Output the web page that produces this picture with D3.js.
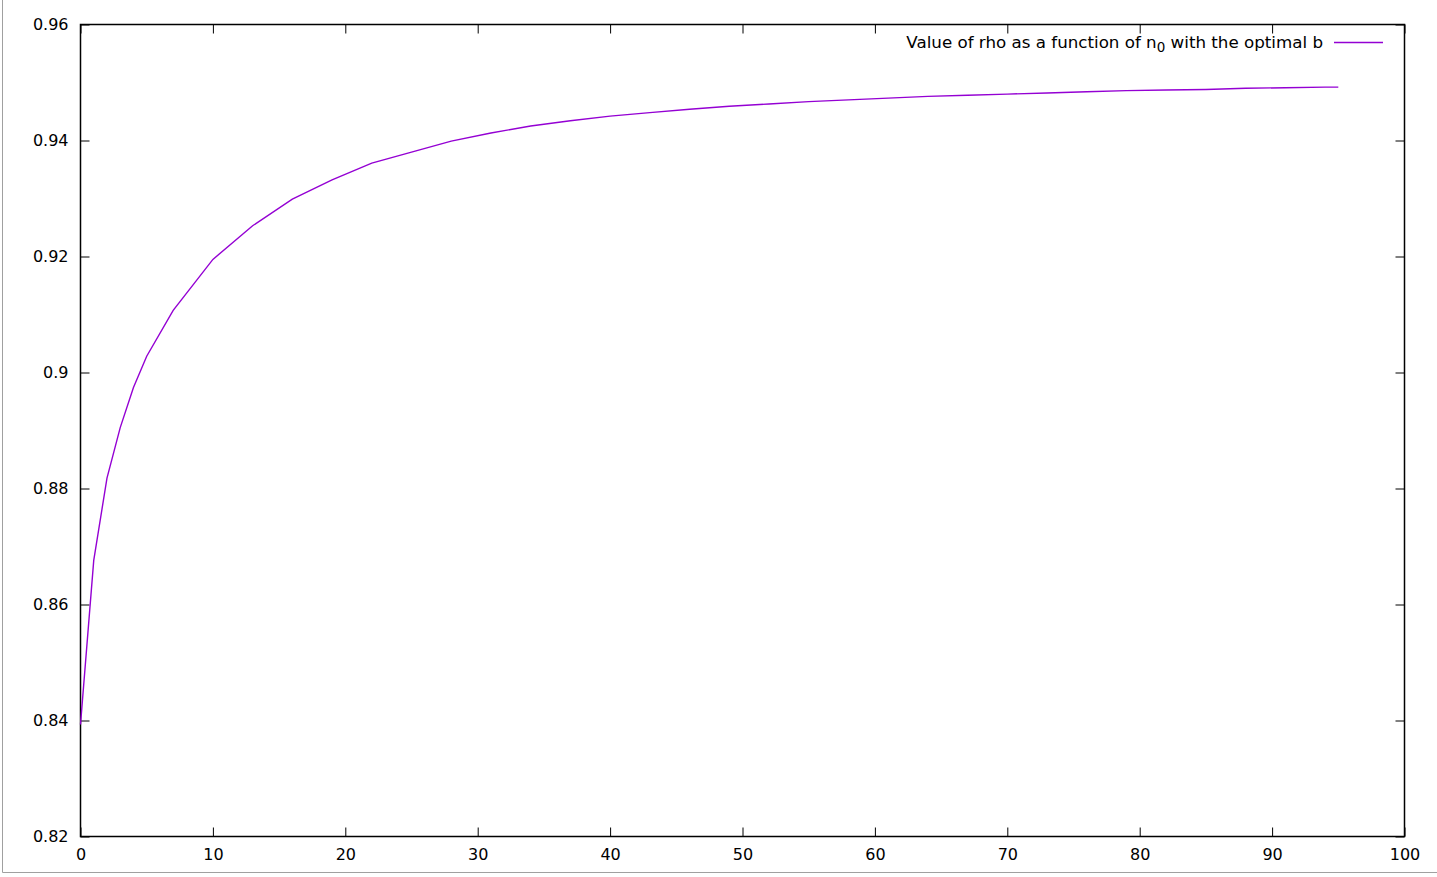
<!DOCTYPE html>
<html>
<head>
<meta charset="utf-8">
<script src="https://cdn.jsdelivr.net/npm/d3@7"></script>
<style>
  html, body { margin: 0; padding: 0; background: #fff; }
  svg { display: block; }
  text { font-family: "DejaVu Sans", sans-serif; fill: #000; }
</style>
</head>
<body>
<svg id="chart" width="1437" height="877"></svg>
<script>
const n0Values = [0, 1, 2, 3, 4, 5, 7, 10, 13, 16, 19, 22, 25, 28, 31, 34, 37, 40, 43, 46, 49, 52, 55, 58, 61, 64, 67, 70, 73, 76, 79, 82, 85, 88, 91, 94, 95];
const rhoValues = [0.8393, 0.8676, 0.8818, 0.8905, 0.8974, 0.9028, 0.9107, 0.9195, 0.9253, 0.9299, 0.9332, 0.9361, 0.9380, 0.9399, 0.9413, 0.9425, 0.9434, 0.9442, 0.9448, 0.9454, 0.9459, 0.9463, 0.9467, 0.9470, 0.9473, 0.9476, 0.9478, 0.9480, 0.9482, 0.9484, 0.9486, 0.9487, 0.9488, 0.9490, 0.9491, 0.9492, 0.9492];
const xTicks = [0, 10, 20, 30, 40, 50, 60, 70, 80, 90, 100];
const yTicks = [0.82, 0.84, 0.86, 0.88, 0.9, 0.92, 0.94, 0.96];
const legendLabel = "Value of rho as a function of n";
const legendSub = "0";
const legendRest = " with the optimal b";

const svg = d3.select("#chart");
const L = 80.5, R = 1404.5, T = 24.5, B = 836.5;
const x = d3.scaleLinear().domain([0, 100]).range([L, R]);
const y = d3.scaleLinear().domain([0.82, 0.96]).range([B, T]);

svg.append("line").attr("x1", 2.5).attr("x2", 2.5).attr("y1", 0).attr("y2", 872.5).attr("stroke", "#a0a0a0");
svg.append("line").attr("x1", 2.5).attr("x2", 1437).attr("y1", 872.5).attr("y2", 872.5).attr("stroke", "#a0a0a0");

const tl = 9;
const fmtY = d => d3.format("")(+d.toFixed(2));

const xb = svg.append("g").attr("transform", `translate(0,${B})`)
  .call(d3.axisBottom(x).tickValues(xTicks).tickSizeInner(-tl).tickSizeOuter(0).tickPadding(12).tickFormat(d3.format("d")));
const xt = svg.append("g").attr("transform", `translate(0,${T})`)
  .call(d3.axisTop(x).tickValues(xTicks).tickSizeInner(-tl).tickSizeOuter(0).tickFormat(""));
const yl = svg.append("g").attr("transform", `translate(${L},0)`)
  .call(d3.axisLeft(y).tickValues(yTicks).tickSizeInner(-tl).tickSizeOuter(0).tickPadding(12).tickFormat(fmtY));
const yr = svg.append("g").attr("transform", `translate(${R},0)`)
  .call(d3.axisRight(y).tickValues(yTicks).tickSizeInner(-tl).tickSizeOuter(0).tickFormat(""));

[xb, xt, yl, yr].forEach(g => {
  g.select(".domain").remove();
  g.selectAll(".tick line").attr("stroke", "#000").attr("stroke-width", 1);
  g.selectAll("text").style("font-family", "DejaVu Sans, sans-serif").style("font-size", "16px").attr("fill", "#000");
});
xb.selectAll(".tick text").attr("dy", "0.71em").attr("y", 12);
yl.selectAll(".tick text").attr("x", -12);

svg.append("rect").attr("x", L).attr("y", T).attr("width", R - L).attr("height", B - T)
  .attr("fill", "none").attr("stroke", "#000").attr("stroke-width", 1.5);

const pts = n0Values.map((n, i) => [n, rhoValues[i]]);
const line = d3.line().x(d => x(d[0])).y(d => y(d[1]));
svg.append("path").datum(pts).attr("d", line)
  .attr("fill", "none").attr("stroke", "#9400d3").attr("stroke-width", 1.4);

const lt = svg.append("text").attr("x", 1323).attr("y", 48).attr("text-anchor", "end").style("font-size", "16.7px");
lt.append("tspan").text(legendLabel);
lt.append("tspan").attr("dy", 4).style("font-size", "13.5px").text(legendSub);
lt.append("tspan").attr("dy", -4).text(legendRest);
svg.append("line").attr("x1", 1334).attr("x2", 1383).attr("y1", 42.5).attr("y2", 42.5)
  .attr("stroke", "#9400d3").attr("stroke-width", 1.4);
</script>
</body>
</html>
